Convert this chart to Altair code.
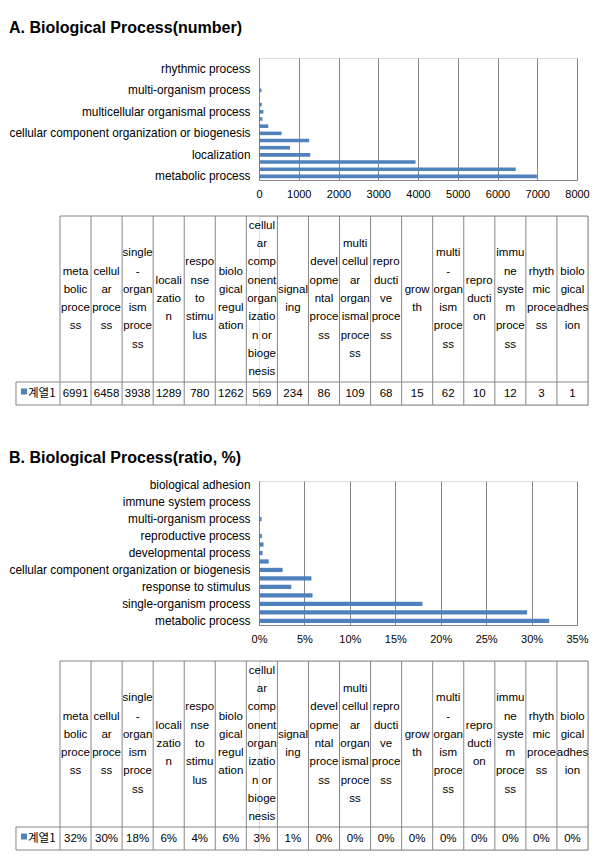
import altair as alt
import pandas as pd

# ---------------- data ----------------
categories = [
    "metabolic process", "cellular process", "single-organism process", "localization",
    "response to stimulus", "biological regulation",
    "cellular component organization or biogenesis", "signaling", "developmental process",
    "multicellular organismal process", "reproductive process", "growth",
    "multi-organism process", "reproduction", "immune system process",
    "rhythmic process", "biological adhesion",
]
header_lines = [
    ["meta", "bolic", "proce", "ss"],
    ["cellul", "ar", "proce", "ss"],
    ["single", "-", "organ", "ism", "proce", "ss"],
    ["locali", "zatio", "n"],
    ["respo", "nse", "to", "stimu", "lus"],
    ["biolo", "gical", "regul", "ation"],
    ["cellul", "ar", "comp", "onent", "organ", "izatio", "n or", "bioge", "nesis"],
    ["signal", "ing"],
    ["devel", "opme", "ntal", "proce", "ss"],
    ["multi", "cellul", "ar", "organ", "ismal", "proce", "ss"],
    ["repro", "ducti", "ve", "proce", "ss"],
    ["grow", "th"],
    ["multi", "-", "organ", "ism", "proce", "ss"],
    ["repro", "ducti", "on"],
    ["immu", "ne", "syste", "m", "proce", "ss"],
    ["rhyth", "mic", "proce", "ss"],
    ["biolo", "gical", "adhes", "ion"],
]
counts = [6991, 6458, 3938, 1289, 780, 1262, 569, 234, 86, 109, 68, 15, 62, 10, 12, 3, 1]
ratios = [0.3194, 0.2951, 0.1799, 0.0589, 0.0356, 0.0577, 0.0260, 0.0107, 0.0039,
          0.0050, 0.0031, 0.0007, 0.0028, 0.0005, 0.0005, 0.00014, 0.00005]
ratio_labels = ["32%", "30%", "18%", "6%", "4%", "6%", "3%", "1%", "0%",
                "0%", "0%", "0%", "0%", "0%", "0%", "0%", "0%"]
series_name = "계열1"

count_ticks = [0, 1000, 2000, 3000, 4000, 5000, 6000, 7000, 8000]
ratio_ticks = [0, 0.05, 0.10, 0.15, 0.20, 0.25, 0.30, 0.35]
labels_a = [categories[i] for i in range(0, 17, 3)]
labels_b = [categories[i] for i in range(0, 17, 2)]

# ---------------- style ----------------
BLUE = "#4F81BD"
GRAY = "#868686"
FONT = "Liberation Sans"
KFONT = "Noto Sans CJK KR"

# table geometry: x in column units, y in pixel rows
PLOT_W = 318              # bar plot width
COLW = 31.06              # table column width (px)
TBL_W = 329               # table view width: from bar-plot left edge to table right edge
X0 = 17 - TBL_W / COLW    # column-unit value at the view's left edge (table starts further left)
LEG = -44 / COLW          # legend column left edge
HDR = 166
ROW = 23
TBL_H = HDR + ROW
LH = 18.3

df = pd.DataFrame({
    "category": categories,
    "idx": list(range(17)),
    "count": counts,
    "ratio": ratios,
    "head": ["\n".join(l) for l in header_lines],
    "cnt_txt": [str(c) for c in counts],
    "ratio_txt": ratio_labels,
})


def bar_chart(field, domain, ticks, fmt, labels, height, title, title_offset):
    return alt.Chart(df).mark_bar(color=BLUE).encode(
        x=alt.X(f"{field}:Q", scale=alt.Scale(domain=domain, nice=False),
                axis=alt.Axis(values=ticks, format=fmt, title=None, grid=True,
                              gridColor=GRAY, gridOpacity=1, domainColor=GRAY,
                              ticks=False, labelPadding=8, labelFontSize=11,
                              labelFlush=False, labelOverlap=False,
                              labelFont=FONT, labelColor="black")),
        y=alt.Y("category:N", sort=categories[::-1],
                scale=alt.Scale(paddingInner=0.5, paddingOuter=0.25),
                axis=alt.Axis(values=labels, title=None, ticks=False, labelPadding=9,
                              labelFontSize=11.85, labelFont=FONT, labelColor="black",
                              labelLimit=400, labelOverlap=False, domainColor=GRAY)),
    ).properties(
        width=PLOT_W, height=height,
        title=alt.Title(title, anchor="start", frame="bounds", fontSize=16,
                        font=FONT, fontWeight="bold", color="black", offset=title_offset),
    )


def table_chart(val_field):
    xs = alt.Scale(domain=[X0, 17], nice=False, zero=False)
    ys = alt.Scale(domain=[TBL_H, 0], nice=False, zero=False)
    noax = None
    hl = pd.DataFrame({"x": [0, LEG, LEG], "x2": [17, 17, 17], "y": [0, HDR, TBL_H]})
    vl = pd.DataFrame({"x": list(range(18)) + [LEG],
                       "y": [0] * 18 + [HDR], "y2": [TBL_H] * 19})
    hrules = alt.Chart(hl).mark_rule(color=GRAY, strokeWidth=1).encode(
        x=alt.X("x:Q", scale=xs, axis=noax), x2="x2:Q",
        y=alt.Y("y:Q", scale=ys, axis=noax))
    vrules = alt.Chart(vl).mark_rule(color=GRAY, strokeWidth=1).encode(
        x=alt.X("x:Q", scale=xs, axis=noax),
        y=alt.Y("y:Q", scale=ys, axis=noax), y2="y2:Q")
    head = alt.Chart(df).transform_calculate(
        xc="datum.idx + 0.5",
        yc=f"{HDR / 2} - (split(datum.head, '\\n').length - 1) * {LH / 2}",
    ).mark_text(font=FONT, fontSize=11.5, lineBreak="\n", lineHeight=LH,
                baseline="middle", align="center", color="black").encode(
        x=alt.X("xc:Q", scale=xs, axis=noax),
        y=alt.Y("yc:Q", scale=ys, axis=noax),
        text="head:N")
    vals = alt.Chart(df).transform_calculate(
        xc="datum.idx + 0.5", yc=str(HDR + ROW / 2)
    ).mark_text(font=FONT, fontSize=11.5, baseline="middle", align="center",
                color="black").encode(
        x=alt.X("xc:Q", scale=xs, axis=noax),
        y=alt.Y("yc:Q", scale=ys, axis=noax),
        text=f"{val_field}:N")
    leg = pd.DataFrame({"name": [series_name],
                        "xm": [LEG + 8 / COLW], "xt": [LEG + 12 / COLW],
                        "ym": [HDR + ROW / 2 - 2], "yt": [HDR + ROW / 2]})
    marker = alt.Chart(leg).mark_square(color=BLUE, size=36, opacity=1).encode(
        x=alt.X("xm:Q", scale=xs, axis=noax), y=alt.Y("ym:Q", scale=ys, axis=noax))
    legtxt = alt.Chart(leg).mark_text(font=KFONT, fontSize=11.5, align="left",
                                      baseline="middle", color="black").encode(
        x=alt.X("xt:Q", scale=xs, axis=noax), y=alt.Y("yt:Q", scale=ys, axis=noax),
        text="name:N")
    return alt.layer(hrules, vrules, head, vals, marker, legtxt).properties(
        width=TBL_W, height=TBL_H)


bar_a = bar_chart("count", [0, 8000], count_ticks, "d", labels_a, 122,
                  "A. Biological Process(number)", 22)
bar_b = bar_chart("ratio", [0, 0.35], ratio_ticks, ".0%", labels_b, 144,
                  "B. Biological Process(ratio, %)", 14)

panel_a = alt.vconcat(bar_a, table_chart("cnt_txt"), spacing=15)
panel_b = alt.vconcat(bar_b, table_chart("ratio_txt"), spacing=15)

chart = alt.vconcat(panel_a, panel_b, spacing=43).properties(
    padding={"left": 0, "top": 11, "right": 0, "bottom": 0}
).configure_view(strokeWidth=0).configure(background="white")

chart.save("out.html", embed_options={"renderer": "svg", "actions": False})
